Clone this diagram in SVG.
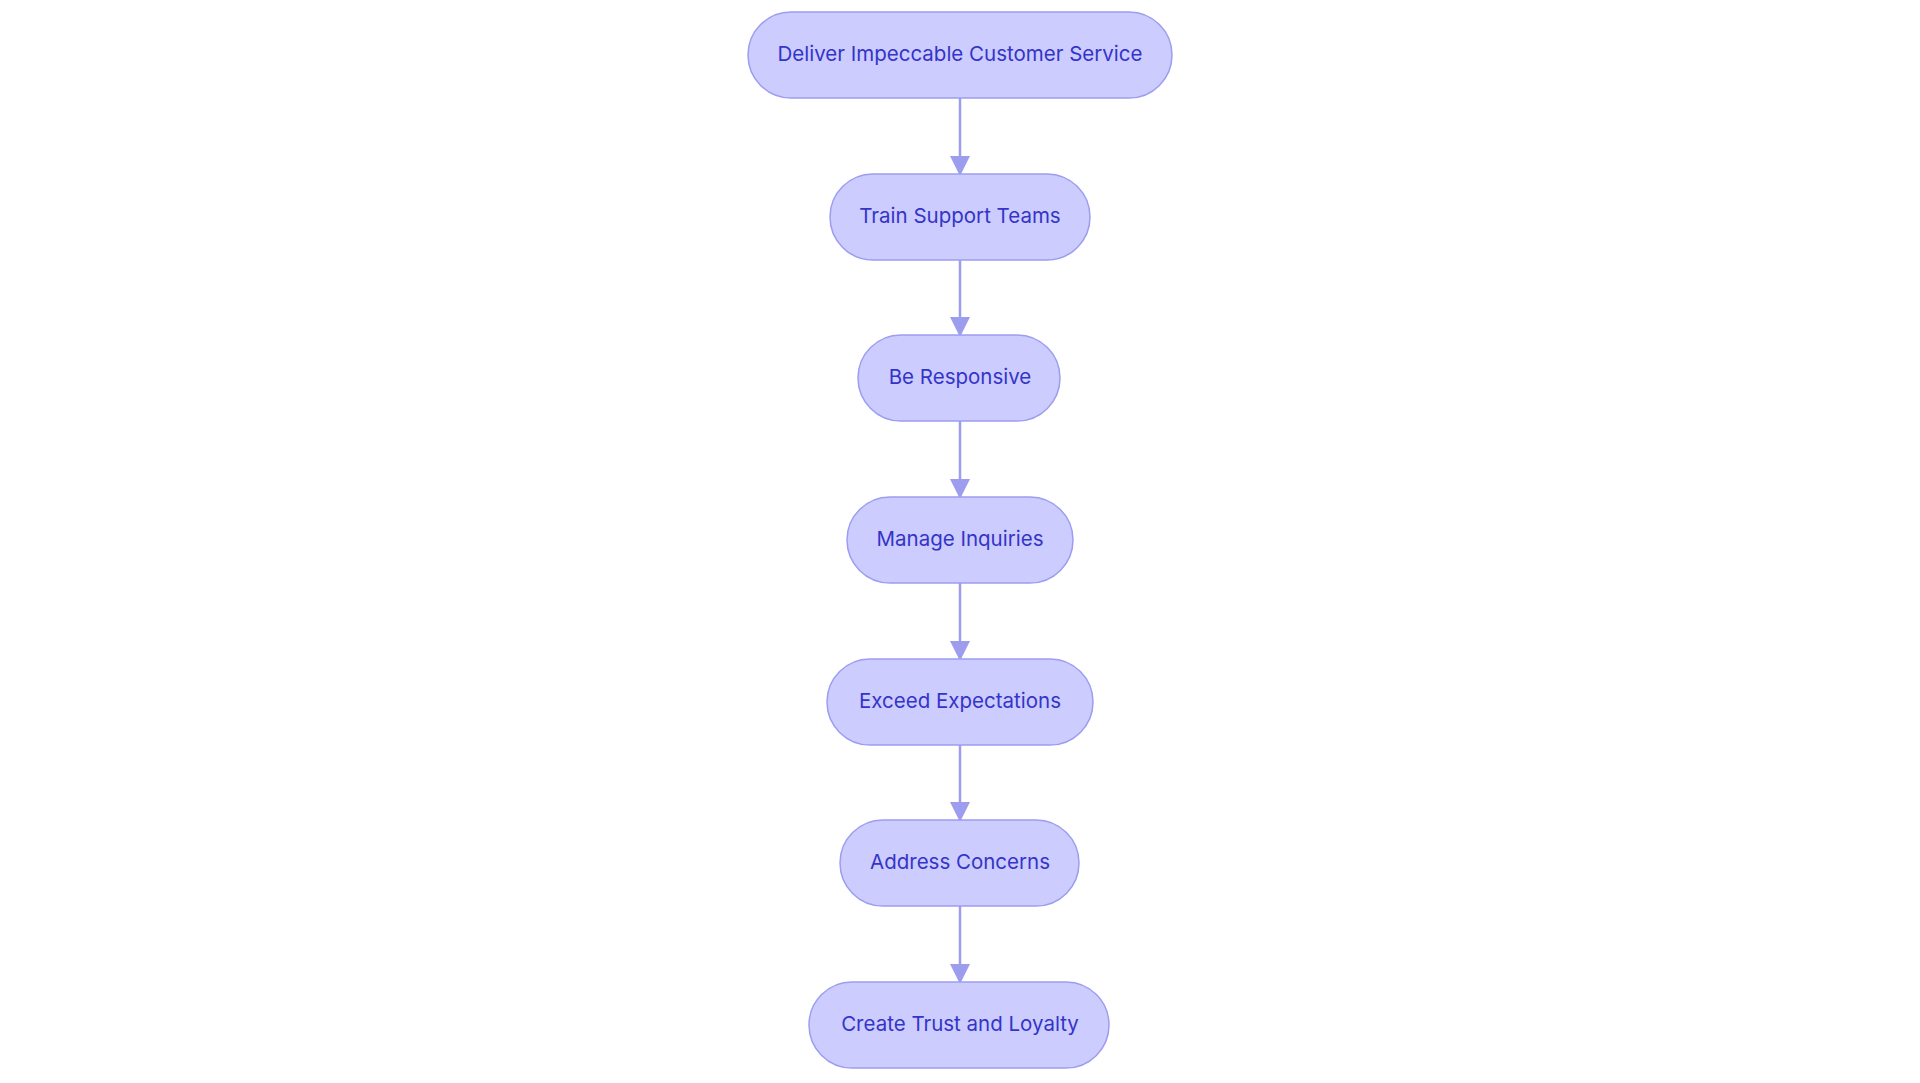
<svg xmlns="http://www.w3.org/2000/svg" width="1920" height="1083" viewBox="0 0 1920 1083">
<style>
.n rect{fill:#ccccff;stroke:#9d9df0;stroke-width:1.5}
.n text{font-family:Inter,"Noto Sans",sans-serif;font-size:20.5px;fill:#3434c8;text-anchor:middle;dominant-baseline:central}
.e line{stroke:#9d9df0;stroke-width:2.5}
</style>
<defs>
<marker id="m" viewBox="0 0 10 10" refX="9" refY="5" markerWidth="8" markerHeight="8" orient="auto"><path d="M0,0L10,5L0,10z" fill="#9d9df0"/></marker></defs>
<rect width="1920" height="1083" fill="#fff"/>
<g class="e">
<line x1="960" y1="98" x2="960" y2="174" marker-end="url(#m)"/>
<line x1="960" y1="260" x2="960" y2="335" marker-end="url(#m)"/>
<line x1="960" y1="421" x2="960" y2="497" marker-end="url(#m)"/>
<line x1="960" y1="583" x2="960" y2="659" marker-end="url(#m)"/>
<line x1="960" y1="745" x2="960" y2="820" marker-end="url(#m)"/>
<line x1="960" y1="906" x2="960" y2="982" marker-end="url(#m)"/>
</g>
<g id="n1" class="n"><rect x="748" y="12" width="424" height="86" rx="43"/><text x="960" y="53">Deliver Impeccable Customer Service</text></g>
<g id="n2" class="n"><rect x="830" y="174" width="260" height="86" rx="43"/><text x="960" y="215">Train Support Teams</text></g>
<g id="n3" class="n"><rect x="858" y="335" width="202" height="86" rx="43"/><text x="960" y="376">Be Responsive</text></g>
<g id="n4" class="n"><rect x="847" y="497" width="226" height="86" rx="43"/><text x="960" y="538">Manage Inquiries</text></g>
<g id="n5" class="n"><rect x="827" y="659" width="266" height="86" rx="43"/><text x="960" y="700">Exceed Expectations</text></g>
<g id="n6" class="n"><rect x="840" y="820" width="239" height="86" rx="43"/><text x="960" y="861">Address Concerns</text></g>
<g id="n7" class="n"><rect x="809" y="982" width="300" height="86" rx="43"/><text x="960" y="1023">Create Trust and Loyalty</text></g>
</svg>
